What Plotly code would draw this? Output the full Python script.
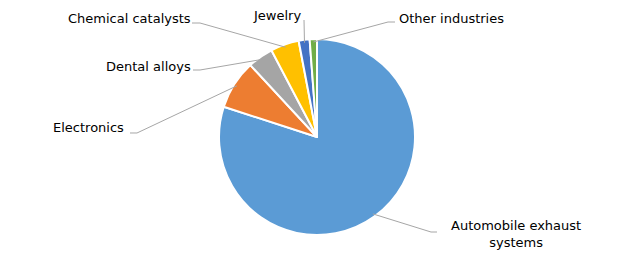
import math
import plotly.graph_objects as go

categories = ["Automobile exhaust systems", "Electronics", "Dental alloys",
              "Chemical catalysts", "Jewelry", "Other industries"]
label_texts = ["Automobile exhaust<br>systems", "Electronics", "Dental alloys",
               "Chemical catalysts", "Jewelry", "Other industries"]
values = [80.0, 8.1, 4.2, 4.7, 1.8, 1.2]
colors = ["#5B9BD5", "#ED7D31", "#A5A5A5", "#FFC000", "#4472C4", "#70AD47"]

W, H = 634, 262
cx, cy, R = 317, 137, 98

# label anchor (text position, px) and leader-line end (px) per category
label_pos = [(516, 234), (88, 128), (148, 66), (129, 19), (277, 16), (451, 18)]
line_end = [[(437, 232), (431, 232)], [(130, 133), (137, 133)], [(193, 70), (200, 70)],
            [(192, 23), (200, 23)], [(304, 20)], [(395, 22), (388, 22)]]

fig = go.Figure(go.Pie(
    labels=categories, values=values, sort=False, direction="clockwise",
    rotation=0, textinfo="none", hoverinfo="label+percent",
    marker=dict(colors=colors, line=dict(color="white", width=2)),
    domain=dict(x=[(cx - R) / W, (cx + R) / W], y=[(H - cy - R) / H, (H - cy + R) / H]),
    showlegend=False,
))

def to_paper(px, py):
    return px / W, 1 - py / H

total = sum(values)
cum = 0.0
for i, v in enumerate(values):
    mid = (cum + v / 2) / total * 2 * math.pi
    cum += v
    sx = cx + R * 0.97 * math.sin(mid)
    sy = cy - R * 0.97 * math.cos(mid)
    pts = [(sx, sy)] + list(reversed(line_end[i]))
    path = ""
    for j, (px, py) in enumerate(pts):
        X, Y = to_paper(px, py)
        path += ("M" if j == 0 else " L") + f" {X:.5f} {Y:.5f}"
    fig.add_shape(type="path", path=path, xref="paper", yref="paper",
                  line=dict(color="#A6A6A6", width=1))
    lx, ly = to_paper(*label_pos[i])
    fig.add_annotation(x=lx, y=ly, xref="paper", yref="paper", text=label_texts[i],
                       showarrow=False, align="center",
                       font=dict(family="DejaVu Sans", size=13, color="#000000"),
                       xanchor="center", yanchor="middle")

fig.update_layout(width=W, height=H, margin=dict(l=0, r=0, t=0, b=0),
                  paper_bgcolor="white", plot_bgcolor="white")
fig.write_html("out.html")
